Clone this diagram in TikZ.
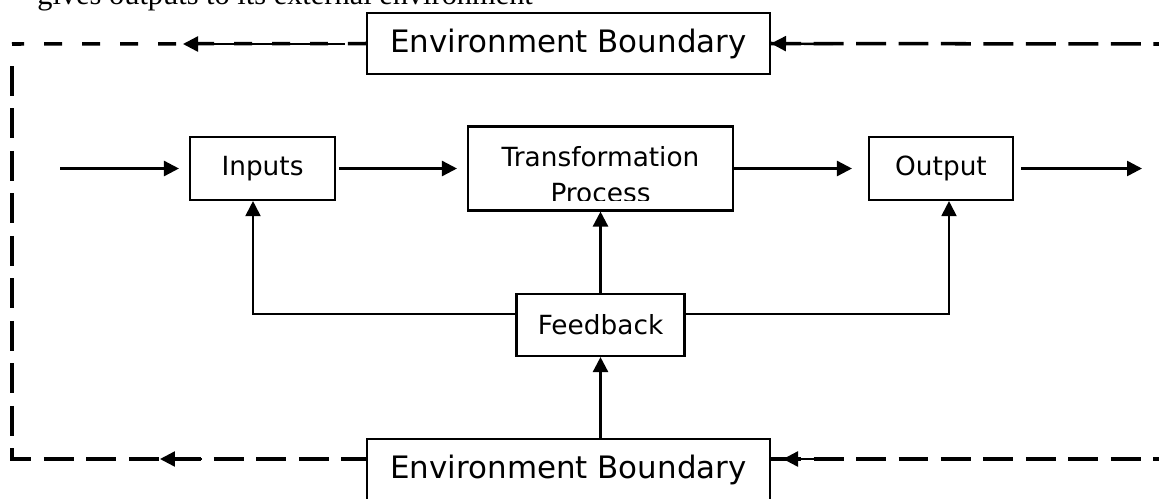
\documentclass[tikz,border=0pt]{standalone}
\usepackage{fontspec}
\setmainfont{DejaVu Sans}
\newfontfamily\serfont{Liberation Serif}
\usepackage{tikz}
\usetikzlibrary{arrows.meta}

\begin{document}
\begin{tikzpicture}
      [x=0.02cm,y=-0.02cm,
       box node/.style={draw,line width=1.2pt,inner sep=0pt,align=center,font=\fontsize{15}{18}\selectfont},
       env node/.style={box node,minimum width=8.06cm,minimum height=1.22cm,font=\fontsize{17.6}{20}\selectfont},
       arr/.style={-{Triangle[length=0.3cm,width=0.3cm]},line width=1.4pt},
       bound/.style={line width=2pt,dash pattern=on 0.6cm off 0.25cm},
       bound short/.style={line width=2pt,dash pattern=on 0.36cm off 0.4cm}]
        \useasboundingbox (0,0) rectangle (1159,498);
        \clip (0,0) rectangle (1159,498);

        \node[anchor=base west,inner sep=0pt,font=\serfont\fontsize{17.3}{20}\selectfont] (cap) at (37,4) {gives outputs to its external environment};

        \node[env node] (envt) at (568.5,43.5) {Environment Boundary};
        \node[env node] (envb) at (568.5,469.5) {Environment Boundary};
        \node[box node,minimum width=2.9cm,minimum height=1.26cm] (inp) at (262.5,168.5) {Inputs};
        \node[box node,minimum width=5.3cm,minimum height=1.68cm] (trans) at (600.5,168.5) {};
        \node[box node,minimum width=2.88cm,minimum height=1.26cm] (out) at (941,168.5) {Output};
        \node[box node,minimum width=3.36cm,minimum height=1.24cm] (fb) at (600.5,325) {Feedback};

        \begin{scope}
          \clip (470,129) rectangle (731,200);
          \node[anchor=base,inner sep=0pt,font=\fontsize{15}{18}\selectfont] (transa) at (600.5,166) {Transformation};
          \node[anchor=base,inner sep=0pt,font=\fontsize{15}{18}\selectfont] (transb) at (600.5,202) {Process};
        \end{scope}

        \coordinate (src) at (60,168.5);
        \coordinate (snk) at (1142,168.5);
        \coordinate (tl) at (12,44);
        \coordinate (bl) at (12,459);
        \coordinate (tr) at (1159,44);
        \coordinate (br) at (1159,459);
        \coordinate (tla) at (345,44);
        \coordinate (tlb) at (183,44);
        \coordinate (tra) at (833,44);
        \coordinate (bla) at (202,459);
        \coordinate (blb) at (160,459);
        \coordinate (bra) at (825,459);
        \coordinate (brb) at (783,459);

        \draw[arr,shorten >=0.2cm] (src) -- (inp);
        \draw[arr,shorten <=0.06cm,shorten >=0.2cm] (inp) -- (trans);
        \draw[arr,shorten >=0.32cm] (trans) -- (out);
        \draw[arr,shorten <=0.14cm] (out) -- (snk);

        \draw[arr] (fb) -- (trans);
        \draw[arr] (fb.south |- envb.north) -- (fb.south);
        \draw[arr,line width=1.1pt] ([yshift=0.22cm]fb.west) -| ([xshift=-0.19cm]inp.south);
        \draw[arr,line width=1.1pt] ([yshift=0.22cm]fb.east) -| ([xshift=0.16cm]out.south);

        \draw[bound short] (envt.west) -- (tl);
        \draw[bound] (12,66) -- (bl) -- (envb.west |- bl);
        \draw[bound] (envt.east) -- (tr);
        \draw[bound] (envb.east |- br) -- (br);

        \draw[arr] (tla) -- (tlb);
        \draw[arr] (tra) -- (envt.east);
        \draw[arr] (bla) -- (blb);
        \draw[arr] (bra) -- (brb);

      \end{tikzpicture}
\end{document}
